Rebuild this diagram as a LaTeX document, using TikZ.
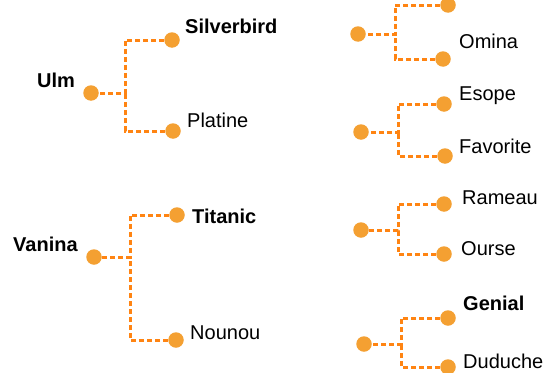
\documentclass[tikz,border=0pt]{standalone}
\usepackage{fontspec}
\setmainfont{Liberation Sans}
\usepackage{tikz}
\usetikzlibrary{positioning,calc}
\definecolor{dotorange}{HTML}{F4A032}
\definecolor{lineorange}{HTML}{FF8412}
\newcommand{\lblsize}{\fontsize{20}{24}\selectfont}

\begin{document}
\begin{tikzpicture}[x=1pt,y=-1pt,
	pt/.style={circle,fill=dotorange,inner sep=0pt,minimum size=15.5pt},
	link/.style={lineorange,line width=3pt,dash pattern=on 5pt off 3pt},
	lbl/.style={anchor=base west,inner sep=0pt,font=\lblsize},
	blbl/.style={lbl,font=\lblsize\bfseries}]
	\useasboundingbox (0,0) rectangle (548,372);
	% Ulm
	\node[pt] (ulm) at (91,93) {}; \node[blbl] (ulmtxt) at (37,87) {Ulm};
	\node[pt] (silverbird) at (172,40) {}; \node[blbl] (silverbirdtxt) at (185,33) {Silverbird};
	\node[pt] (platine) at (173,131) {}; \node[lbl] (platinetxt) at (187,127) {Platine};
	\coordinate (j1) at (125,93);
	\draw[link] (silverbird) -| (j1) -- (ulm); \draw[link] (platine) -| (j1);
	% Vanina
	\node[pt] (vanina) at (94,257) {}; \node[blbl] (vaninatxt) at (13,251) {Vanina};
	\node[pt] (titanic) at (177,215) {}; \node[blbl] (titanictxt) at (192,223) {Titanic};
	\node[pt] (nounou) at (176,340) {}; \node[lbl] (nounoutxt) at (190,339) {Nounou};
	\coordinate (j2) at (130,257);
	\draw[link] (titanic) -| (j2) -- (vanina); \draw[link] (nounou) -| (j2);
	% right column
	\node[pt] (r1) at (358,34) {};
	\node[pt] (top) at (448,5) {};
	\node[pt] (omina) at (443,59) {}; \node[lbl] (ominatxt) at (459,48) {Omina};
	\coordinate (j3) at (395,34);
	\draw[link] (top) -| (j3) -- (r1); \draw[link] (omina) -| (j3);
	\node[pt] (r2) at (361,132) {};
	\node[pt] (esope) at (444,104) {}; \node[lbl] (esopetxt) at (459,100) {Esope};
	\node[pt] (favorite) at (445,156) {}; \node[lbl] (favoritetxt) at (459,153) {Favorite};
	\coordinate (j4) at (398,132);
	\draw[link] (esope) -| (j4) -- (r2); \draw[link] (favorite) -| (j4);
	\node[pt] (r3) at (361,230) {};
	\node[pt] (rameau) at (444,204) {}; \node[lbl] (rameautxt) at (462,204) {Rameau};
	\node[pt] (ourse) at (444,254) {}; \node[lbl] (oursetxt) at (461,255) {Ourse};
	\coordinate (j5) at (398,230);
	\draw[link] (rameau) -| (j5) -- (r3); \draw[link] (ourse) -| (j5);
	\node[pt] (r4) at (364,344) {};
	\node[pt] (genial) at (448,318) {}; \node[blbl] (genialtxt) at (463,310) {Genial};
	\node[pt] (duduche) at (448,367) {}; \node[lbl] (duduchetxt) at (463,368) {Duduche};
	\coordinate (j6) at (401,344);
	\draw[link] (genial) -| (j6) -- (r4); \draw[link] (duduche) -| (j6);
\end{tikzpicture}
\end{document}
